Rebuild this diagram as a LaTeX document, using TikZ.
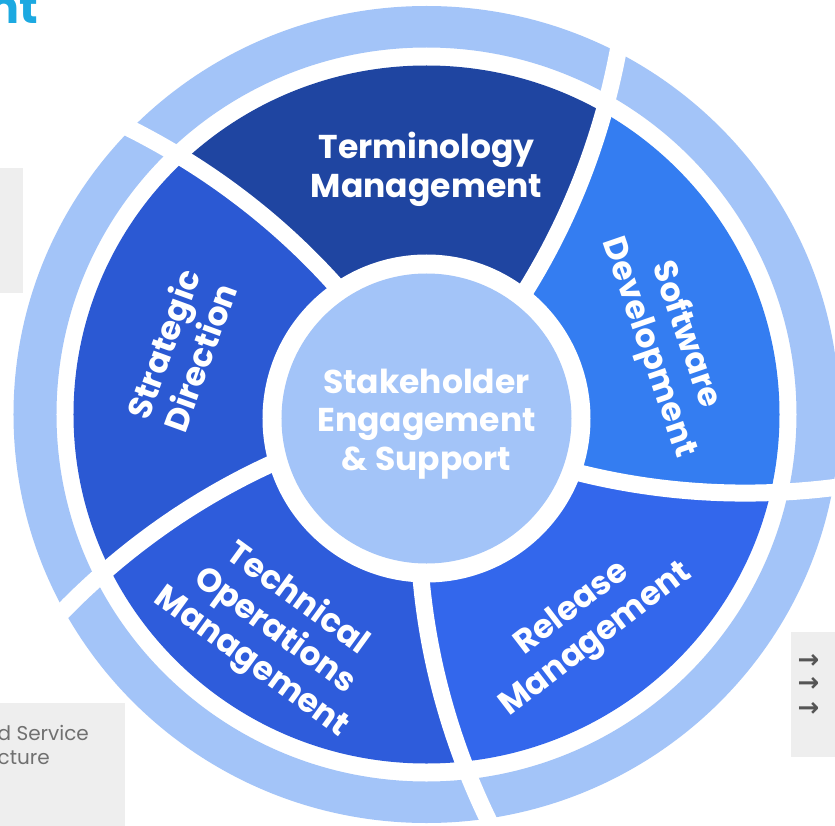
\documentclass[tikz,border=0pt]{standalone}
\usepackage{fontspec}
\setmainfont{Poppins}
\newfontfamily\arrowfont{DejaVu Sans}[BoldFont={DejaVu Sans Bold}]
\definecolor{ringblue}{HTML}{A3C4F8}
\definecolor{termc}{HTML}{1F45A1}
\definecolor{softc}{HTML}{347DF1}
\definecolor{relc}{HTML}{3367EC}
\definecolor{techc}{HTML}{2E5CDB}
\definecolor{stratc}{HTML}{2B59D3}
\definecolor{boxgray}{HTML}{EEEEEE}
\definecolor{textgray}{HTML}{707070}
\definecolor{arrowgray}{HTML}{555555}
\definecolor{titlecyan}{HTML}{1CA9E1}
\begin{document}
\begin{tikzpicture}[x=1pt,y=1pt,
  seglabel/.style={text=white, font=\bfseries\fontsize{33}{39}\selectfont, align=center, inner sep=0pt},
  graytext/.style={text=textgray, font=\fontsize{20}{24}\selectfont, inner sep=0pt, anchor=base west},
  arrowtxt/.style={text=arrowgray, font=\arrowfont\bfseries\fontsize{26}{28}\selectfont, inner sep=0pt}]
\path[use as bounding box] (-426.5,-410.5) rectangle (408.5,414.5);
\fill[white] (-426.5,-410.5) rectangle (408.5,414.5);
\begin{scope}
\clip (-426.5,-410.5) rectangle (408.5,414.5);
% side boxes
\fill[boxgray] (-430,246.5) rectangle (-403.5,121.5);
\fill[boxgray] (-430,-288.5) rectangle (-301.5,-415);
\fill[boxgray] (364.5,-217.5) rectangle (412,-342.5);
\node[font=\bfseries\fontsize{46}{50}\selectfont, text=titlecyan, anchor=base east, inner sep=0pt] (title) at (-388,390.5) {nt};
\node[graytext] (svc) at (-429,-326.2) {d Service};
\node[graytext] (cture) at (-429,-349.5) {cture};
\node[arrowtxt] (a1) at (382,-246.5) {→};
\node[arrowtxt] (a2) at (382,-270) {→};
\node[arrowtxt] (a3) at (382,-294.8) {→};
% outer ring
\fill[ringblue, even odd rule] (0,0) ellipse[x radius=413, y radius=408.5] (0,0) ellipse[x radius=370, y radius=367];
% segments
\foreach \a/\b/\c in {339/411.5/softc, 51.5/125.3/termc, 125.3/197.6/stratc, 197.6/268/techc, 268/339/relc} {
  \begin{scope}
    \clip (0,0) -- plot[variable=\r, domain=140:700, samples=40] ({\a+0.043*(\r-162)}:{\r})
      -- plot[variable=\r, domain=700:140, samples=40] ({\b+0.043*(\r-162)}:{\r}) -- cycle;
    \fill[\c] (0,0) ellipse[x radius=353, y radius=349];
  \end{scope}
}
% separators
\foreach \a in {51.5,125.3,197.6,268,339} {
  \draw[white, line width=17pt] plot[smooth, variable=\r, domain=140:450, samples=25] ({\a+0.043*(\r-162)}:{\r});
}
% centre
\fill[white] (0,-4) circle[radius=164];
\fill[ringblue] (0,-4) circle[radius=145];
% labels
\node[seglabel] (term) at (0,245) {Terminology\\Management};
\node[seglabel, rotate=70] (strat) at (-245.5,63.9) {Strategic\\Direction};
\node[seglabel, rotate=-71] (soft) at (240.2,73.2) {Software\\Development};
\node[seglabel, rotate=-36] (tech) at (-152.3,-216.5) {Technical\\Operations\\Management};
\node[seglabel, rotate=37.5] (rel) at (158.2,-210.1) {Release\\Management};
\node[seglabel, font=\bfseries\fontsize{33}{38.5}\selectfont] (centre) at (0,-9.5) {Stakeholder\\Engagement\\\& Support};
\end{scope}
\end{tikzpicture}
\end{document}
